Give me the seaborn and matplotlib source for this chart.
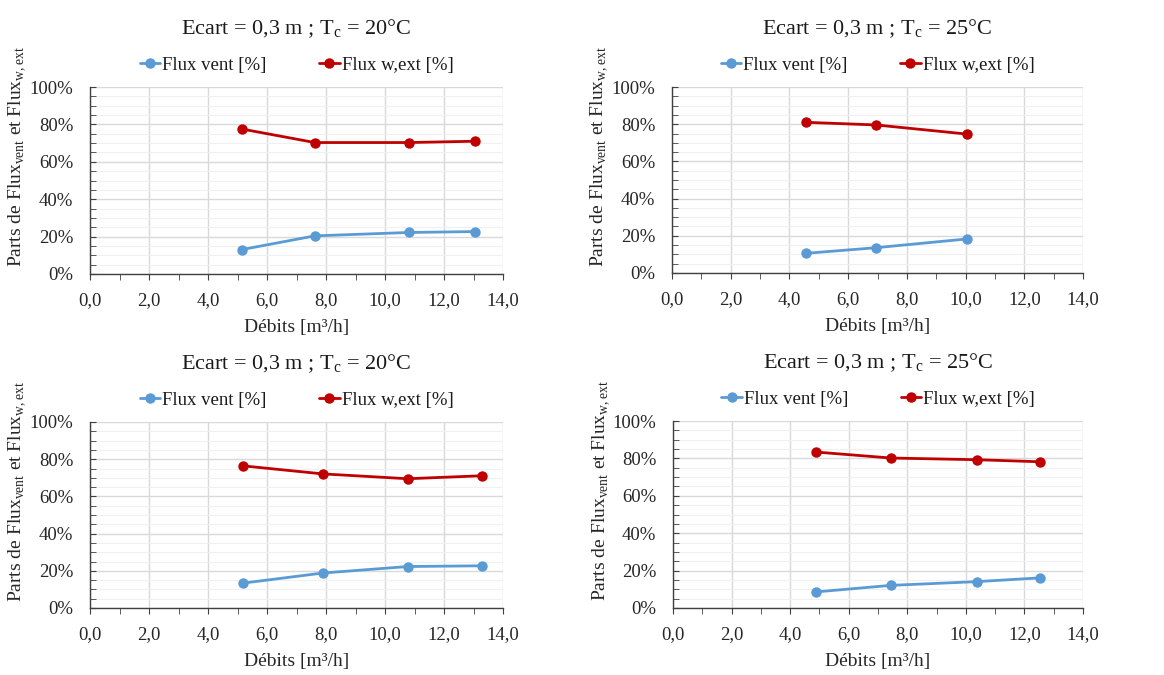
import pandas as pd
import matplotlib.pyplot as plt
import matplotlib.ticker as mticker
import seaborn as sns

# Data (debits in m3/h, shares in %)
titles = ["Ecart = 0,3 m ; T$_\\mathregular{c}$ = 20°C",
          "Ecart = 0,3 m ; T$_\\mathregular{c}$ = 25°C",
          "Ecart = 0,3 m ; T$_\\mathregular{c}$ = 20°C",
          "Ecart = 0,3 m ; T$_\\mathregular{c}$ = 25°C"]

debit_1 = [5.16, 7.62, 10.80, 13.06]
vent_1 = [13.1, 20.4, 22.2, 22.7]
wext_1 = [77.5, 70.3, 70.3, 71.0]

debit_2 = [4.58, 6.95, 10.04]
vent_2 = [10.6, 13.6, 18.3]
wext_2 = [81.0, 79.6, 74.7]

debit_3 = [5.20, 7.89, 10.77, 13.29]
vent_3 = [13.4, 18.8, 22.3, 22.7]
wext_3 = [76.4, 72.1, 69.5, 71.1]

debit_4 = [4.88, 7.44, 10.37, 12.52]
vent_4 = [8.6, 12.1, 14.1, 16.1]
wext_4 = [83.4, 80.2, 79.3, 78.2]

series_names = ["Flux vent [%]", "Flux w,ext [%]"]
colors = {"Flux vent [%]": "#5B9BD5", "Flux w,ext [%]": "#C00000"}

panels = [(debit_1, vent_1, wext_1), (debit_2, vent_2, wext_2),
          (debit_3, vent_3, wext_3), (debit_4, vent_4, wext_4)]

sns.set_style("white")
plt.rcParams['font.family'] = ['Liberation Serif', 'DejaVu Serif']
plt.rcParams['mathtext.fontset'] = 'custom'
plt.rcParams['mathtext.rm'] = 'Liberation Serif'
plt.rcParams['text.color'] = '#1A1A1A'

fig = plt.figure(figsize=(11.64, 6.75), dpi=100)
W, H = 1164, 675
# axes boxes in pixels: left, top, right, bottom
boxes = [(90, 87, 503, 274), (672, 87, 1083, 273),
         (90, 422, 503, 608), (673, 421, 1083, 608)]

for (l, t, r, b), title, (deb, vent, wext) in zip(boxes, titles, panels):
    ax = fig.add_axes([l / W, 1 - b / H, (r - l) / W, (b - t) / H])
    df = pd.DataFrame({
        "Débit": deb * 2,
        "Part": [v / 100 for v in vent] + [w / 100 for w in wext],
        "Série": [series_names[0]] * len(deb) + [series_names[1]] * len(deb),
    })
    sns.lineplot(data=df, x="Débit", y="Part", hue="Série", palette=colors,
                 marker="o", markersize=7.5, markeredgewidth=0, linewidth=2,
                 sort=False, ax=ax, zorder=3)
    ax.set_xlim(0, 14)
    ax.set_ylim(0, 1)
    ax.xaxis.set_major_locator(mticker.MultipleLocator(2))
    ax.xaxis.set_minor_locator(mticker.MultipleLocator(1))
    ax.yaxis.set_major_locator(mticker.MultipleLocator(0.2))
    ax.yaxis.set_minor_locator(mticker.MultipleLocator(0.05))
    ax.xaxis.set_major_formatter(mticker.FuncFormatter(lambda v, p: f"{v:.1f}".replace(".", ",")))
    ax.yaxis.set_major_formatter(mticker.FuncFormatter(lambda v, p: f"{v * 100:.0f}%"))
    ax.grid(True, which="major", color="#D9D9D9", linewidth=1)
    ax.grid(True, which="minor", axis="y", color="#F0F0F0", linewidth=0.8)
    ax.set_axisbelow(True)
    for s in ["top", "right"]:
        ax.spines[s].set_visible(False)
    for s in ["left", "bottom"]:
        ax.spines[s].set_color("#404040")
        ax.spines[s].set_linewidth(1)
    ax.tick_params(axis="x", which="both", direction="out", length=4, color="#404040",
                   bottom=True, labelsize=13.5, pad=9, labelcolor="#262626")
    ax.tick_params(axis="y", which="both", direction="in", length=4, color="#404040",
                   left=True, labelsize=13.5, pad=12, labelcolor="#262626")
    ax.set_xlabel("Débits [m³/h]", fontsize=14, labelpad=7)
    ax.set_ylabel("Parts de Flux$_\\mathregular{vent}$ et Flux$_\\mathregular{w,ext}$",
                  fontsize=14)
    ax.yaxis.set_label_coords(-0.15, 0.63)
    ax.set_title(title, fontsize=16, pad=38)
    ax.legend(loc="lower center", bbox_to_anchor=(0.5, 1.0), ncol=2, frameon=False,
              fontsize=13.5, handlelength=1.1, handletextpad=0.1, columnspacing=2.8,
              borderaxespad=0.3)

fig.savefig("out.png", dpi=100)
